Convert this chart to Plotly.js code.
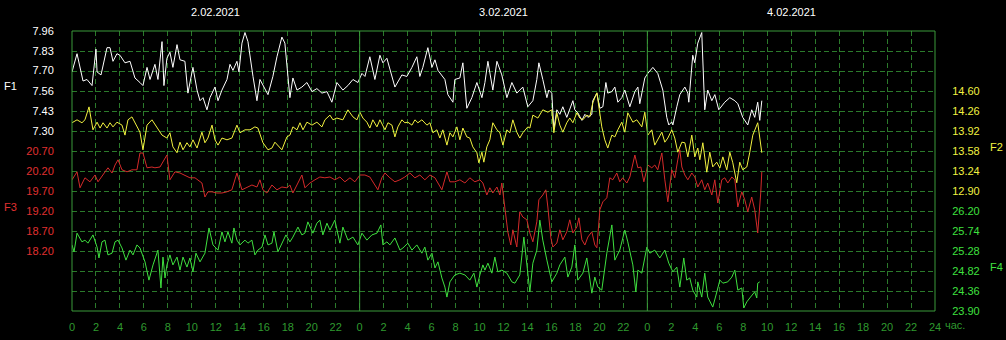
<!DOCTYPE html>
<html><head><meta charset="utf-8">
<script src="https://cdn.plot.ly/plotly-3.0.1.min.js"></script>
<style>html,body{margin:0;padding:0;background:#000;overflow:hidden}#chart{width:1006px;height:340px}</style>
</head><body><div id="chart"></div>
<script>
// ---- data (hours since 2.02.2021 00:00) ----
const f1Hours = [0.00,0.42,0.92,1.25,1.67,2.00,2.09,2.42,2.92,3.17,3.42,3.75,4.00,4.42,4.84,5.25,5.67,5.92,6.26,6.51,6.92,7.17,7.51,7.67,7.92,8.17,8.42,8.76,9.01,9.42,9.67,10.09,10.43,10.68,10.93,11.26,11.51,11.93,12.18,12.51,12.93,13.18,13.43,13.76,13.93,14.18,14.43,14.68,15.10,15.43,15.68,16.10,16.35,16.76,17.10,17.51,17.76,18.18,18.43,18.77,19.18,19.60,20.02,20.43,20.85,21.27,21.68,22.10,22.60,23.02,23.44,23.85,24.19,24.44,24.85,25.27,25.69,25.94,26.27,26.94,27.52,27.94,28.36,28.77,29.02,29.27,29.69,30.03,30.28,30.53,31.11,31.36,31.78,31.94,32.36,32.61,32.94,33.36,33.78,34.20,34.45,34.70,35.11,35.45,35.86,36.28,36.70,37.11,37.61,38.03,38.45,38.78,38.95,39.28,39.62,39.78,40.03,40.20,40.45,40.70,40.95,41.28,41.53,41.79,41.95,42.20,42.54,42.79,43.04,43.37,43.45,43.79,44.04,44.29,44.54,44.70,45.04,45.29,45.54,45.87,46.12,46.54,46.96,47.21,47.37,47.79,48.04,48.46,48.87,49.29,49.62,49.79,50.04,50.13,50.46,50.71,51.13,51.38,51.46,51.79,51.96,52.21,52.54,52.63,52.79,53.04,53.38,53.63,53.96,54.46,54.88,55.30,55.55,55.96,56.38,56.71,56.96,57.21,57.38,57.55];
const f1Values = [7.69,7.81,7.63,7.64,7.60,7.84,7.69,7.67,7.85,7.85,7.76,7.81,7.80,7.75,7.76,7.65,7.62,7.60,7.72,7.64,7.74,7.64,7.89,7.60,7.78,7.82,7.72,7.87,7.77,7.76,7.55,7.72,7.57,7.50,7.52,7.44,7.52,7.59,7.50,7.57,7.64,7.74,7.70,7.76,7.69,7.88,7.95,7.89,7.66,7.50,7.64,7.58,7.54,7.66,7.79,7.92,7.88,7.52,7.65,7.57,7.59,7.62,7.56,7.58,7.55,7.56,7.49,7.62,7.57,7.60,7.64,7.62,7.68,7.66,7.79,7.64,7.80,7.75,7.78,7.59,7.67,7.66,7.72,7.79,7.66,7.72,7.85,7.72,7.77,7.70,7.64,7.54,7.49,7.64,7.65,7.75,7.45,7.52,7.62,7.52,7.62,7.76,7.57,7.76,7.67,7.52,7.62,7.55,7.59,7.46,7.50,7.64,7.75,7.64,7.52,7.57,7.55,7.31,7.44,7.41,7.46,7.39,7.44,7.50,7.44,7.42,7.37,7.41,7.39,7.41,7.50,7.55,7.45,7.46,7.62,7.55,7.56,7.59,7.49,7.52,7.57,7.46,7.56,7.59,7.48,7.65,7.68,7.72,7.68,7.57,7.39,7.34,7.36,7.34,7.46,7.54,7.59,7.55,7.49,7.80,7.75,7.88,7.95,7.72,7.44,7.57,7.50,7.54,7.44,7.49,7.52,7.50,7.48,7.39,7.34,7.44,7.39,7.49,7.37,7.50];

const f2Hours = [0.00,0.42,0.83,1.08,1.42,1.75,2.09,2.34,2.59,2.92,3.17,3.42,3.75,4.17,4.42,4.67,5.00,5.25,5.67,5.92,6.26,6.67,7.09,7.51,7.92,8.17,8.42,8.76,9.01,9.26,9.59,9.84,10.09,10.43,10.84,11.09,11.34,11.68,11.93,12.18,12.51,12.93,13.34,13.76,14.01,14.43,14.85,15.26,15.51,15.93,16.35,16.68,16.93,17.18,17.51,17.93,18.18,18.43,18.77,19.02,19.27,19.60,20.02,20.43,20.85,21.10,21.52,21.77,22.10,22.60,23.02,23.44,23.77,24.02,24.27,24.60,24.85,25.10,25.44,25.69,26.11,26.36,26.69,26.94,27.19,27.52,27.77,28.02,28.36,28.61,28.86,29.19,29.61,29.86,30.11,30.44,30.69,30.94,31.28,31.53,31.78,32.11,32.36,32.61,32.94,33.19,33.44,33.78,33.94,34.20,34.36,34.61,34.86,35.11,35.45,35.70,35.95,36.28,36.53,36.78,37.11,37.36,37.61,38.03,38.20,38.45,38.87,39.28,39.70,40.03,40.20,40.45,40.70,40.95,41.28,41.53,41.79,42.12,42.37,42.62,42.95,43.20,43.45,43.79,44.04,44.20,44.45,44.70,45.04,45.29,45.54,45.87,46.12,46.37,46.79,47.12,47.54,47.79,48.04,48.37,48.62,48.87,49.21,49.46,49.71,50.04,50.29,50.54,50.88,51.13,51.38,51.71,51.96,52.21,52.38,52.63,52.96,53.21,53.46,53.79,54.05,54.30,54.63,54.88,55.13,55.46,55.71,55.96,56.30,56.55,56.80,57.21,57.55];
const f2Values = [14.06,14.11,14.06,14.11,14.33,13.94,14.07,13.97,14.06,13.97,14.06,13.99,14.07,14.02,13.85,14.11,14.16,14.07,13.90,13.60,14.02,14.11,13.97,13.85,13.80,13.89,13.65,13.55,13.73,13.60,13.72,13.65,13.77,13.63,13.90,13.72,13.80,14.02,13.77,13.68,13.80,13.77,13.80,14.02,13.89,13.94,13.94,13.99,13.97,13.72,13.60,13.63,13.73,13.68,13.60,13.82,13.85,13.99,13.94,14.06,13.94,14.07,14.02,14.07,13.99,14.11,14.19,14.11,14.14,14.11,14.28,14.16,14.11,14.24,14.14,14.07,13.97,14.11,13.99,14.11,13.94,14.06,14.02,13.82,13.99,14.11,14.06,14.07,14.02,14.11,14.06,14.11,14.02,14.06,13.89,13.94,13.80,13.94,13.68,13.89,13.82,13.99,13.77,13.97,13.82,13.80,13.65,13.55,13.38,13.56,13.39,13.65,13.77,14.06,13.94,13.89,13.68,13.94,13.89,14.11,13.90,13.80,13.89,13.99,13.97,14.19,14.14,14.28,14.24,14.28,13.89,14.23,14.02,13.90,14.06,14.14,14.06,14.23,14.14,14.11,14.19,14.16,14.40,14.57,14.23,13.99,13.77,13.63,13.85,13.82,13.94,14.07,13.90,14.23,14.07,14.11,13.99,14.24,13.85,13.94,13.68,13.77,13.90,13.73,13.80,13.94,13.80,13.56,13.73,13.72,13.48,13.85,13.48,13.63,13.43,13.72,13.22,13.56,13.31,13.39,13.29,13.48,13.26,13.56,13.38,13.04,13.39,13.26,13.31,13.56,13.85,14.06,13.55];

const f3Hours = [0.00,0.42,0.67,1.08,1.50,1.92,2.17,2.59,3.00,3.34,3.59,3.84,4.17,4.59,5.00,5.42,5.67,5.92,6.26,6.67,6.92,7.34,7.59,7.92,8.17,8.59,9.01,9.42,9.84,10.26,10.84,11.09,11.34,11.68,12.09,12.51,12.93,13.34,13.76,14.18,14.60,15.01,15.43,15.68,15.93,16.26,16.68,17.10,17.51,17.93,18.18,18.43,18.85,19.18,19.43,19.85,20.27,20.68,21.10,21.52,21.93,22.35,22.77,23.19,23.60,24.02,24.44,24.85,25.27,25.52,25.85,26.11,26.52,26.94,27.36,27.77,28.19,28.61,29.02,29.44,29.86,30.28,30.53,30.86,31.28,31.53,31.94,32.36,32.78,33.19,33.61,34.03,34.28,34.61,34.86,35.11,35.45,35.70,35.86,36.11,36.36,36.61,36.78,37.11,37.36,37.61,37.95,38.20,38.45,38.78,38.95,39.28,39.53,39.70,39.95,40.12,40.45,40.70,40.95,41.28,41.53,41.79,42.12,42.29,42.54,42.79,43.04,43.37,43.62,43.79,44.04,44.29,44.62,44.87,45.12,45.45,45.70,45.95,46.29,46.54,46.71,46.96,47.21,47.46,47.71,48.04,48.37,48.62,48.87,49.21,49.46,49.71,50.04,50.29,50.54,50.71,50.88,51.13,51.38,51.71,51.96,52.21,52.54,52.79,53.04,53.38,53.63,53.88,54.21,54.46,54.71,55.05,55.30,55.55,55.88,56.13,56.38,56.71,56.96,57.21,57.46,57.55];
const f3Values = [19.98,20.18,19.78,20.03,19.93,20.10,19.93,20.10,20.28,20.15,20.35,20.48,20.23,20.18,20.23,20.23,20.65,20.65,20.28,20.30,20.28,20.30,20.43,20.60,19.98,20.18,20.15,20.10,20.03,20.03,19.90,19.55,19.68,19.68,19.65,19.65,19.68,19.73,20.15,19.73,19.80,19.85,19.80,19.98,19.73,19.65,19.85,19.73,19.80,19.78,19.85,19.65,19.90,20.10,19.78,19.90,19.98,20.05,20.03,20.05,19.98,20.05,19.93,20.03,19.93,20.10,20.10,20.05,19.85,19.73,20.03,20.15,20.03,19.93,19.98,20.05,20.15,20.03,20.10,19.98,20.10,20.03,19.90,19.73,20.18,19.93,19.93,19.98,19.90,20.03,19.93,19.98,19.90,19.60,19.78,19.65,19.80,19.60,19.90,19.28,18.68,18.35,18.73,18.30,19.18,19.05,18.98,18.65,18.43,18.93,19.48,19.60,19.73,19.30,18.53,18.30,18.40,18.73,18.48,18.68,18.98,18.65,18.80,19.03,18.48,18.35,18.55,18.68,18.35,18.28,19.23,19.43,19.53,20.03,19.98,20.15,19.93,20.03,19.90,20.05,20.28,20.60,20.28,20.30,19.93,20.35,20.28,20.35,20.23,20.65,19.98,19.43,20.23,20.03,20.48,20.73,20.30,20.10,19.98,20.15,20.05,19.80,19.98,19.73,19.90,19.60,19.98,19.40,19.98,20.03,19.90,20.05,19.98,19.30,19.68,19.48,19.18,19.55,19.23,18.65,19.65,20.18];

const f4Hours = [0.00,0.17,0.42,0.83,1.08,1.33,1.75,2.09,2.25,2.50,2.75,3.00,3.34,3.59,3.84,4.17,4.50,4.84,5.09,5.42,5.67,6.09,6.42,6.76,7.17,7.42,7.59,7.76,7.92,8.17,8.42,8.76,9.01,9.26,9.59,9.84,10.09,10.34,10.68,11.09,11.43,11.76,12.18,12.51,12.76,13.01,13.34,13.51,13.76,14.01,14.43,14.68,15.01,15.26,15.51,15.85,16.10,16.35,16.68,16.85,17.18,17.60,17.85,18.18,18.43,18.85,19.18,19.43,19.68,20.10,20.43,20.68,20.93,21.27,21.52,21.93,22.35,22.60,23.02,23.44,23.85,24.19,24.60,25.02,25.44,25.77,25.94,26.27,26.52,26.94,27.36,27.61,28.02,28.36,28.77,29.19,29.44,29.69,30.03,30.28,30.53,30.86,31.11,31.28,31.53,31.94,32.36,32.78,33.19,33.53,33.78,34.03,34.28,34.45,34.70,35.03,35.28,35.53,35.86,36.28,36.70,36.95,37.36,37.70,37.95,38.20,38.45,38.78,39.03,39.28,39.62,40.03,40.45,40.70,41.12,41.37,41.70,41.95,42.20,42.62,42.95,43.37,43.62,43.87,44.20,44.62,45.04,45.29,45.70,46.12,46.37,46.79,47.04,47.21,47.54,47.96,48.21,48.62,49.04,49.46,49.79,50.13,50.46,50.71,51.04,51.29,51.54,51.79,52.13,52.21,52.54,52.79,53.04,53.46,53.80,54.05,54.30,54.71,55.05,55.30,55.55,55.88,56.05,56.30,56.55,56.96,57.13,57.21,57.38];
const f4Values = [25.42,25.26,25.69,25.49,25.53,25.46,25.65,25.37,25.12,25.49,25.53,25.19,25.23,25.49,25.53,25.35,25.07,25.30,25.19,25.42,25.35,25.03,24.61,24.96,25.30,24.43,25.14,24.66,24.96,25.19,24.96,25.14,24.84,25.14,24.91,25.12,24.80,25.23,25.03,25.23,25.81,25.42,25.30,25.72,25.49,25.72,25.46,25.81,25.53,25.42,25.53,25.46,25.53,25.19,25.30,25.37,25.65,25.42,25.46,25.72,25.26,25.53,25.65,25.49,25.60,25.83,25.65,25.69,25.95,25.69,25.92,25.99,25.65,25.92,25.76,25.99,25.46,25.83,25.53,25.60,25.42,25.69,25.53,25.65,25.69,25.88,25.42,25.49,25.42,25.58,25.30,25.35,25.46,25.30,25.42,25.23,25.37,25.07,25.23,24.89,25.03,24.66,24.45,24.22,24.57,24.73,24.77,24.73,24.61,24.77,24.45,24.73,24.96,24.84,25.00,24.77,25.14,24.80,24.84,24.77,24.57,24.54,24.73,25.60,25.00,24.34,25.00,25.30,25.99,25.53,25.07,24.57,24.77,24.96,25.14,24.68,24.91,25.42,24.61,24.77,25.12,24.31,24.68,24.45,24.38,25.23,25.88,25.07,25.30,25.76,25.49,24.96,24.34,24.84,24.77,25.37,25.23,25.30,25.12,25.30,25.00,24.80,24.91,24.45,25.12,24.61,24.66,24.38,24.22,24.57,24.22,24.77,24.22,23.99,24.34,24.61,24.54,24.57,24.68,24.84,24.38,24.43,23.97,24.11,24.20,24.34,24.20,24.54,24.57];

// ---- tick labels ----
const hourTickVals = [0,2,4,6,8,10,12,14,16,18,20,22,24,26,28,30,32,34,36,38,40,42,44,46,48,50,52,54,56,58,60,62,64,66,68,70,72];
const hourTickText = ['0','2','4','6','8','10','12','14','16','18','20','22','0','2','4','6','8','10','12','14','16','18','20','22','0','2','4','6','8','10','12','14','16','18','20','22','24'];
const f1Ticks = [7.30,7.43,7.56,7.70,7.83,7.96];
const f2Ticks = [12.90,13.24,13.58,13.92,14.26,14.60];
const f3Ticks = [18.20,18.70,19.20,19.70,20.20,20.70];
const f4Ticks = [23.90,24.36,24.82,25.28,25.74,26.20];
const dayLabels = ['2.02.2021','3.02.2021','4.02.2021'];
const dayMidHours = [12,36,60];
const dayBoundaries = [24,48];

const FONT = 'Liberation Sans, Arial, sans-serif';
const GRID = '#2b7a2b';
const BORDER = '#3a9a3a';
const C_WHITE = '#ffffff', C_YELLOW = '#f2f240', C_RED = '#d42a2a', C_GREEN = '#3fe03f';

const traces = [
  {x:f4Hours, y:f4Values, yaxis:'y4', mode:'lines', line:{color:C_GREEN,width:1}},
  {x:f3Hours, y:f3Values, yaxis:'y3', mode:'lines', line:{color:C_RED,width:1}},
  {x:f2Hours, y:f2Values, yaxis:'y2', mode:'lines', line:{color:C_YELLOW,width:1}},
  {x:f1Hours, y:f1Values, yaxis:'y', mode:'lines', line:{color:C_WHITE,width:1}},
  {x:[0,72], y:[0,14], yaxis:'y5', mode:'markers', marker:{opacity:0}, hoverinfo:'skip'}
];

function valAxis(range, ticks, color, side, overlay){
  const a = {range:range, tickmode:'array', tickvals:ticks, ticktext:ticks.map(v=>v.toFixed(2)),
    showgrid:false, zeroline:false, showline:false, side:side, anchor:'x',
    ticks:'outside', ticklen:side==='left'?15:14, tickcolor:'rgba(0,0,0,0)',
    tickfont:{family:FONT, size:11, color:color}, fixedrange:true};
  if (overlay) a.overlaying = 'y';
  return a;
}

const shapes = [
  {type:'rect', xref:'paper', yref:'paper', x0:0, x1:1, y0:0, y1:1, line:{color:BORDER, width:1}}
].concat(dayBoundaries.map(h => ({type:'line', xref:'x', yref:'paper', x0:h, x1:h, y0:0, y1:1, line:{color:BORDER, width:1}})));

function ann(text, xref, x, y, color){
  return {text:text, xref:xref, yref:'paper', x:x, y:y, xanchor:'center', yanchor:'middle', showarrow:false,
    font:{family:FONT, size:11, color:color}};
}
const annotations = dayLabels.map((t,i) => ann(t, 'x', dayMidHours[i], 1.068, '#ffffff'))
.concat([
  ann('F1', 'paper', -0.0707, 0.8036, '#ffffff'),
  ann('F3', 'paper', -0.0707, 0.371, '#e03030'),
  ann('F2', 'paper', 1.0718, 0.586, '#f2f240'),
  ann('F4', 'paper', 1.0718, 0.157, '#3fe03f'),
  ann('час.', 'paper', 1.0232, -0.05, '#2f9a2f')
]);

const layout = {
  width:1006, height:340,
  margin:{l:72, r:71, t:31, b:29, pad:0},
  paper_bgcolor:'#000', plot_bgcolor:'#000',
  showlegend:false,
  xaxis:{range:[0,72], tickmode:'array', tickvals:hourTickVals, ticktext:hourTickText,
    showgrid:true, gridcolor:GRID, gridwidth:1, griddash:'5px,3px', zeroline:false, showline:false,
    ticks:'outside', ticklen:6, tickcolor:'rgba(0,0,0,0)',
    tickfont:{family:FONT, size:11, color:'#2f9a2f'}, fixedrange:true},
  yaxis: valAxis([6.112,7.96], f1Ticks, '#ffffff', 'left', false),
  yaxis2: valAxis([10.86,15.62], f2Ticks, '#f2f240', 'right', true),
  yaxis3: valAxis([16.70,23.70], f3Ticks, '#e03030', 'left', true),
  yaxis4: valAxis([23.90,30.34], f4Ticks, '#3fe03f', 'right', true),
  yaxis5: {range:[0,14], dtick:1, overlaying:'y', side:'right', anchor:'x', showticklabels:false, ticks:'',
    showgrid:true, gridcolor:GRID, gridwidth:1, griddash:'5px,3px', zeroline:false, showline:false, fixedrange:true},
  shapes:shapes,
  annotations:annotations
};

Plotly.newPlot('chart', traces, layout, {displayModeBar:false, staticPlot:true});
</script>
</body></html>
